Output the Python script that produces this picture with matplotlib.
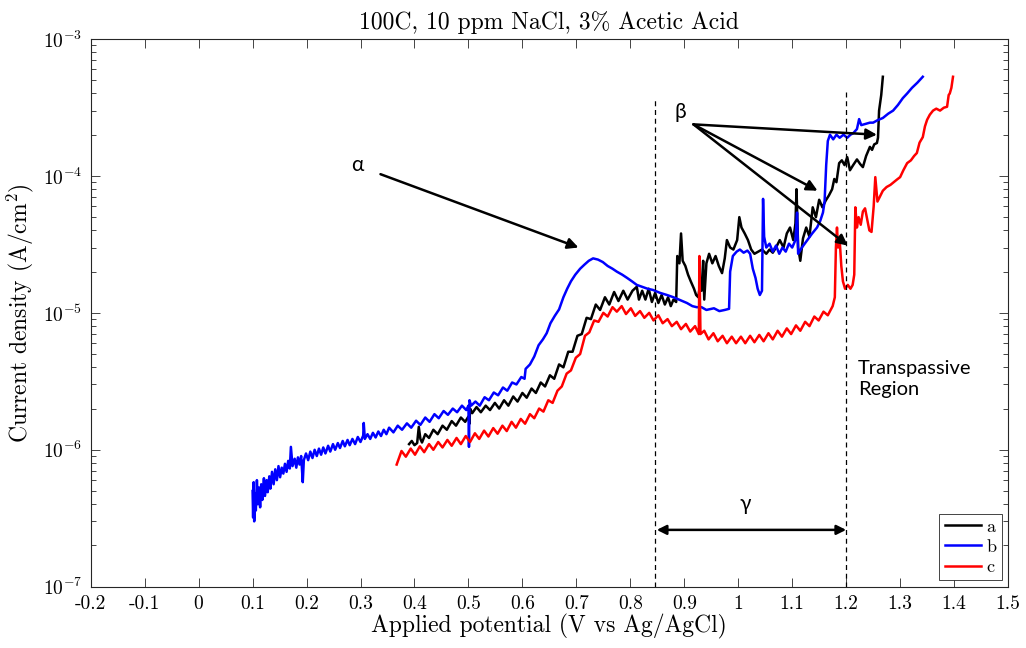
import matplotlib
matplotlib.use("Agg")
import matplotlib.pyplot as plt
from matplotlib.ticker import FixedLocator, FixedFormatter, LogLocator, NullFormatter

# === Data: (potential V, current density A/cm^2) ===
trace_a = [
    (0.390, 1.1e-6), (0.395, 1.16e-6), (0.400, 1.08e-6), (0.405, 1.12e-6), (0.408, 1.47e-6),
    (0.411, 1.2e-6), (0.414, 1.13e-6), (0.420, 1.3e-6), (0.427, 1.22e-6), (0.435, 1.4e-6),
    (0.443, 1.3e-6), (0.452, 1.5e-6), (0.460, 1.4e-6), (0.469, 1.62e-6), (0.477, 1.5e-6),
    (0.486, 1.72e-6), (0.494, 1.6e-6), (0.500, 1.75e-6), (0.502, 1.55e-6), (0.503, 2.0e-6),
    (0.507, 1.85e-6), (0.515, 2.05e-6), (0.523, 1.88e-6), (0.532, 2.1e-6), (0.540, 1.95e-6),
    (0.549, 2.2e-6), (0.557, 2.0e-6), (0.566, 2.3e-6), (0.574, 2.1e-6), (0.583, 2.45e-6),
    (0.591, 2.25e-6), (0.600, 2.6e-6), (0.608, 2.4e-6), (0.617, 2.8e-6), (0.625, 2.6e-6),
    (0.634, 3.1e-6), (0.642, 2.9e-6), (0.651, 3.5e-6), (0.659, 3.3e-6), (0.668, 4.2e-6),
    (0.676, 4.0e-6), (0.685, 5.2e-6), (0.693, 5.2e-6), (0.702, 6.8e-6), (0.710, 7.0e-6),
    (0.719, 9.2e-6), (0.727, 9.0e-6), (0.736, 1.15e-5), (0.744, 1.05e-5), (0.753, 1.3e-5),
    (0.761, 1.15e-5), (0.770, 1.42e-5), (0.778, 1.22e-5), (0.787, 1.45e-5), (0.795, 1.25e-5),
    (0.804, 1.45e-5), (0.812, 1.55e-5), (0.816, 1.25e-5), (0.822, 1.45e-5), (0.828, 1.25e-5),
    (0.834, 1.5e-5), (0.840, 1.2e-5), (0.846, 1.4e-5), (0.852, 1.18e-5), (0.858, 1.35e-5),
    (0.864, 1.15e-5), (0.870, 1.3e-5), (0.875, 1.12e-5), (0.880, 1.25e-5), (0.885, 1.2e-5),
    (0.887, 2.6e-5), (0.891, 2.3e-5), (0.894, 3.8e-5), (0.897, 2.4e-5), (0.902, 2.2e-5),
    (0.907, 1.9e-5), (0.912, 1.7e-5), (0.918, 1.5e-5), (0.922, 1.35e-5), (0.926, 1.3e-5),
    (0.929, 1.6e-5), (0.932, 1.45e-5), (0.935, 2.4e-5), (0.937, 1.25e-5), (0.941, 2.3e-5),
    (0.946, 2.7e-5), (0.952, 2.3e-5), (0.958, 2.6e-5), (0.964, 2.2e-5), (0.970, 1.95e-5),
    (0.975, 2.5e-5), (0.979, 3.4e-5), (0.985, 3.0e-5), (0.991, 2.9e-5), (0.998, 3.4e-5),
    (1.002, 5.0e-5), (1.006, 4.2e-5), (1.012, 3.8e-5), (1.018, 3.4e-5), (1.024, 2.9e-5),
    (1.030, 2.7e-5), (1.037, 2.8e-5), (1.044, 2.9e-5), (1.052, 2.7e-5), (1.058, 2.9e-5),
    (1.064, 2.75e-5), (1.070, 3.0e-5), (1.077, 3.4e-5), (1.084, 3.0e-5), (1.090, 3.8e-5),
    (1.096, 4.2e-5), (1.102, 3.4e-5), (1.106, 4.5e-5), (1.108, 8.0e-5), (1.111, 3.0e-5),
    (1.115, 2.4e-5), (1.120, 3.5e-5), (1.126, 4.2e-5), (1.132, 3.6e-5), (1.138, 5.9e-5),
    (1.144, 5.0e-5), (1.150, 6.7e-5), (1.156, 5.9e-5), (1.162, 6.6e-5), (1.168, 7.2e-5),
    (1.174, 8.0e-5), (1.178, 9.5e-5), (1.182, 9.0e-5), (1.187, 1.24e-4), (1.192, 1.3e-4),
    (1.197, 1.2e-4), (1.202, 1.37e-4), (1.207, 1.1e-4), (1.213, 1.2e-4), (1.220, 1.32e-4),
    (1.226, 1.22e-4), (1.231, 1.16e-4), (1.237, 1.4e-4), (1.244, 1.63e-4), (1.248, 1.55e-4),
    (1.252, 1.7e-4), (1.257, 1.74e-4), (1.259, 1.9e-4), (1.261, 3.0e-4), (1.263, 3.4e-4),
    (1.265, 3.9e-4), (1.268, 5.3e-4),
]

trace_b = [
    (0.100, 5.0e-7), (0.101, 3.2e-7), (0.102, 5.8e-7), (0.103, 3.0e-7), (0.105, 4.8e-7),
    (0.106, 3.6e-7), (0.108, 6.0e-7), (0.110, 4.0e-7), (0.112, 5.3e-7), (0.114, 3.8e-7),
    (0.116, 5.6e-7), (0.118, 4.3e-7), (0.121, 6.2e-7), (0.123, 4.6e-7), (0.126, 6.0e-7),
    (0.128, 4.9e-7), (0.131, 6.4e-7), (0.133, 5.2e-7), (0.136, 6.9e-7), (0.139, 5.6e-7),
    (0.142, 7.2e-7), (0.145, 6.0e-7), (0.148, 7.6e-7), (0.151, 6.3e-7), (0.154, 7.4e-7),
    (0.157, 6.7e-7), (0.160, 7.9e-7), (0.163, 6.9e-7), (0.166, 8.3e-7), (0.169, 7.3e-7),
    (0.171, 1.05e-6), (0.174, 7.6e-7), (0.178, 8.6e-7), (0.181, 7.4e-7), (0.184, 8.8e-7),
    (0.187, 7.8e-7), (0.190, 9.0e-7), (0.193, 5.8e-7), (0.195, 8.4e-7), (0.199, 9.4e-7),
    (0.203, 8.4e-7), (0.207, 9.7e-7), (0.211, 8.7e-7), (0.215, 1.0e-6), (0.219, 9.0e-7),
    (0.223, 1.02e-6), (0.227, 9.2e-7), (0.231, 1.04e-6), (0.235, 9.4e-7), (0.240, 1.07e-6),
    (0.244, 9.7e-7), (0.249, 1.1e-6), (0.253, 1.0e-6), (0.258, 1.12e-6), (0.262, 1.03e-6),
    (0.267, 1.16e-6), (0.271, 1.06e-6), (0.276, 1.18e-6), (0.280, 1.08e-6), (0.285, 1.2e-6),
    (0.290, 1.1e-6), (0.295, 1.24e-6), (0.300, 1.14e-6), (0.305, 1.27e-6), (0.306, 1.57e-6),
    (0.308, 1.2e-6), (0.313, 1.3e-6), (0.318, 1.2e-6), (0.323, 1.33e-6), (0.328, 1.23e-6),
    (0.333, 1.36e-6), (0.338, 1.26e-6), (0.343, 1.4e-6), (0.348, 1.3e-6), (0.353, 1.45e-6),
    (0.361, 1.34e-6), (0.369, 1.5e-6), (0.377, 1.4e-6), (0.386, 1.56e-6), (0.394, 1.45e-6),
    (0.403, 1.63e-6), (0.411, 1.52e-6), (0.420, 1.72e-6), (0.428, 1.6e-6), (0.437, 1.82e-6),
    (0.445, 1.7e-6), (0.454, 1.92e-6), (0.462, 1.8e-6), (0.471, 2.0e-6), (0.479, 1.88e-6),
    (0.488, 2.1e-6), (0.496, 1.95e-6), (0.500, 2.1e-6), (0.501, 1.05e-6), (0.502, 2.3e-6),
    (0.505, 2.1e-6), (0.513, 2.25e-6), (0.521, 2.1e-6), (0.530, 2.42e-6), (0.538, 2.3e-6),
    (0.547, 2.62e-6), (0.555, 2.5e-6), (0.564, 2.85e-6), (0.572, 2.7e-6), (0.581, 3.1e-6),
    (0.589, 3.0e-6), (0.598, 3.4e-6), (0.604, 3.3e-6), (0.606, 3.9e-6), (0.614, 4.2e-6),
    (0.622, 4.8e-6), (0.630, 5.8e-6), (0.638, 6.4e-6), (0.645, 7.1e-6), (0.652, 8.4e-6),
    (0.660, 9.5e-6), (0.668, 1.06e-5), (0.676, 1.3e-5), (0.683, 1.5e-5), (0.690, 1.7e-5),
    (0.698, 1.9e-5), (0.707, 2.1e-5), (0.715, 2.25e-5), (0.723, 2.4e-5), (0.731, 2.5e-5),
    (0.740, 2.45e-5), (0.749, 2.35e-5), (0.758, 2.2e-5), (0.767, 2.1e-5), (0.775, 2.0e-5),
    (0.785, 1.9e-5), (0.794, 1.8e-5), (0.803, 1.7e-5), (0.812, 1.6e-5), (0.822, 1.55e-5),
    (0.832, 1.5e-5), (0.842, 1.47e-5), (0.855, 1.4e-5), (0.868, 1.35e-5), (0.880, 1.3e-5),
    (0.892, 1.24e-5), (0.905, 1.18e-5), (0.915, 1.12e-5), (0.923, 1.1e-5), (0.932, 1.1e-5),
    (0.941, 1.05e-5), (0.955, 1.08e-5), (0.965, 1.03e-5), (0.975, 1.05e-5), (0.983, 1.07e-5),
    (0.985, 2.0e-5), (0.990, 2.6e-5), (0.997, 2.8e-5), (1.003, 2.9e-5), (1.010, 2.75e-5),
    (1.017, 2.85e-5), (1.022, 2.7e-5), (1.027, 2.1e-5), (1.032, 1.8e-5), (1.036, 1.5e-5),
    (1.040, 1.35e-5), (1.044, 1.45e-5), (1.046, 6.8e-5), (1.048, 3.6e-5), (1.052, 3.0e-5),
    (1.058, 3.2e-5), (1.064, 2.8e-5), (1.070, 3.1e-5), (1.076, 2.7e-5), (1.082, 3.0e-5),
    (1.088, 2.8e-5), (1.094, 3.2e-5), (1.100, 3.0e-5), (1.106, 3.4e-5), (1.109, 5.4e-5),
    (1.111, 2.7e-5), (1.118, 3.0e-5), (1.128, 3.4e-5), (1.137, 3.8e-5), (1.146, 4.2e-5),
    (1.152, 4.7e-5), (1.157, 5.4e-5), (1.160, 6.5e-5), (1.163, 1.2e-4), (1.166, 1.8e-4),
    (1.170, 2.0e-4), (1.176, 1.85e-4), (1.182, 2.0e-4), (1.188, 1.9e-4), (1.195, 2.0e-4),
    (1.202, 1.9e-4), (1.208, 2.0e-4), (1.213, 2.05e-4), (1.220, 2.2e-4), (1.224, 2.6e-4),
    (1.228, 2.35e-4), (1.236, 2.4e-4), (1.244, 2.45e-4), (1.250, 2.45e-4), (1.258, 2.55e-4),
    (1.268, 2.65e-4), (1.278, 2.85e-4), (1.287, 3.0e-4), (1.296, 3.3e-4), (1.305, 3.7e-4),
    (1.313, 4.0e-4), (1.322, 4.4e-4), (1.332, 4.8e-4), (1.342, 5.3e-4),
]

trace_c = [
    (0.367, 7.8e-7), (0.376, 9.8e-7), (0.384, 8.9e-7), (0.393, 1.02e-6), (0.401, 9.2e-7),
    (0.410, 1.06e-6), (0.418, 9.6e-7), (0.427, 1.1e-6), (0.435, 1.0e-6), (0.444, 1.14e-6),
    (0.452, 1.04e-6), (0.461, 1.18e-6), (0.469, 1.07e-6), (0.478, 1.22e-6), (0.486, 1.1e-6),
    (0.495, 1.26e-6), (0.503, 1.14e-6), (0.512, 1.32e-6), (0.520, 1.2e-6), (0.529, 1.38e-6),
    (0.537, 1.25e-6), (0.546, 1.44e-6), (0.554, 1.31e-6), (0.563, 1.5e-6), (0.571, 1.37e-6),
    (0.580, 1.6e-6), (0.588, 1.45e-6), (0.597, 1.68e-6), (0.605, 1.55e-6), (0.614, 1.82e-6),
    (0.622, 1.7e-6), (0.631, 2.0e-6), (0.639, 1.9e-6), (0.648, 2.3e-6), (0.656, 2.2e-6),
    (0.665, 2.7e-6), (0.673, 2.9e-6), (0.682, 3.6e-6), (0.690, 3.8e-6), (0.699, 4.7e-6),
    (0.707, 5.0e-6), (0.716, 6.8e-6), (0.724, 7.2e-6), (0.733, 8.8e-6), (0.741, 8.6e-6),
    (0.750, 1.0e-5), (0.758, 9.4e-6), (0.767, 1.1e-5), (0.775, 1.02e-5), (0.784, 1.12e-5),
    (0.792, 9.8e-6), (0.801, 1.08e-5), (0.809, 9.5e-6), (0.818, 1.03e-5), (0.826, 9.2e-6),
    (0.835, 1.0e-5), (0.843, 8.8e-6), (0.852, 9.6e-6), (0.860, 8.4e-6), (0.869, 9.0e-6),
    (0.877, 8.0e-6), (0.886, 8.6e-6), (0.894, 7.6e-6), (0.903, 8.3e-6), (0.911, 7.3e-6),
    (0.920, 8.0e-6), (0.927, 7.0e-6), (0.928, 2.6e-5), (0.930, 7.0e-6), (0.937, 7.4e-6),
    (0.945, 6.4e-6), (0.954, 7.1e-6), (0.962, 6.2e-6), (0.971, 6.8e-6), (0.979, 6.0e-6),
    (0.988, 6.7e-6), (0.996, 6.0e-6), (1.005, 6.7e-6), (1.013, 6.0e-6), (1.022, 6.8e-6),
    (1.030, 6.1e-6), (1.039, 6.9e-6), (1.047, 6.2e-6), (1.056, 7.1e-6), (1.064, 6.4e-6),
    (1.073, 7.4e-6), (1.081, 6.7e-6), (1.090, 7.7e-6), (1.098, 7.0e-6), (1.107, 8.1e-6),
    (1.115, 7.4e-6), (1.124, 8.6e-6), (1.132, 8.0e-6), (1.141, 9.4e-6), (1.149, 8.8e-6),
    (1.158, 1.02e-5), (1.166, 9.6e-6), (1.175, 1.12e-5), (1.179, 1.3e-5), (1.181, 3.0e-5),
    (1.183, 4.2e-5), (1.185, 3.0e-5), (1.188, 3.4e-5), (1.191, 2.2e-5), (1.194, 1.7e-5),
    (1.198, 1.5e-5), (1.203, 1.6e-5), (1.208, 1.5e-5), (1.212, 1.6e-5), (1.215, 1.9e-5),
    (1.217, 5.9e-5), (1.220, 4.2e-5), (1.223, 5.0e-5), (1.227, 4.4e-5), (1.231, 5.5e-5),
    (1.235, 5.8e-5), (1.239, 4.8e-5), (1.243, 4.0e-5), (1.247, 3.9e-5), (1.251, 6.0e-5),
    (1.254, 9.8e-5), (1.258, 6.5e-5), (1.262, 7.0e-5), (1.268, 7.8e-5), (1.275, 8.3e-5),
    (1.282, 8.6e-5), (1.288, 9.0e-5), (1.294, 9.4e-5), (1.300, 9.8e-5), (1.306, 1.1e-4),
    (1.313, 1.24e-4), (1.320, 1.3e-4), (1.326, 1.4e-4), (1.331, 1.47e-4), (1.336, 1.75e-4),
    (1.342, 1.92e-4), (1.346, 2.3e-4), (1.350, 2.57e-4), (1.355, 2.8e-4), (1.361, 3.0e-4),
    (1.367, 3.1e-4), (1.374, 3.0e-4), (1.381, 3.15e-4), (1.387, 3.2e-4), (1.390, 3.9e-4),
    (1.392, 4.0e-4), (1.395, 4.4e-4), (1.398, 5.3e-4),
]

series_labels = ["a", "b", "c"]
series_colors = ["black", "blue", "red"]

x_ticks = [-0.2, -0.1, 0, 0.1, 0.2, 0.3, 0.4, 0.5, 0.6, 0.7, 0.8, 0.9, 1.0, 1.1, 1.2, 1.3, 1.4, 1.5]
x_tick_labels = ["-0.2", "-0.1", "0", "0.1", "0.2", "0.3", "0.4", "0.5", "0.6", "0.7",
                 "0.8", "0.9", "1", "1.1", "1.2", "1.3", "1.4", "1.5"]
boundary_potentials = [0.846, 1.2]   # dashed region markers

# === Style ===
plt.rcParams["font.family"] = "cmr10"
plt.rcParams["mathtext.fontset"] = "cm"
plt.rcParams["axes.formatter.use_mathtext"] = True
axis_gray = "#262626"

fig = plt.figure(figsize=(10.26, 6.48), dpi=100)
ax = fig.add_axes([0.0884, 0.0946, 0.8941, 0.8452])

for trace, lab, col in zip([trace_a, trace_b, trace_c], series_labels, series_colors):
    pot, cur = zip(*trace)
    ax.plot(pot, cur, color=col, lw=1.8, label=lab)

ax.set_yscale("log")
ax.set_xlim(-0.2, 1.5)
ax.set_ylim(1e-7, 1e-3)

ax.xaxis.set_major_locator(FixedLocator(x_ticks))
ax.xaxis.set_major_formatter(FixedFormatter(x_tick_labels))
ax.yaxis.set_major_locator(LogLocator(base=10, numticks=10))
ax.yaxis.set_minor_locator(LogLocator(base=10, subs=range(2, 10), numticks=20))
ax.yaxis.set_minor_formatter(NullFormatter())

ax.tick_params(which="both", direction="in", top=True, right=True, colors=axis_gray,
               labelcolor="black", labelsize=14, width=0.6)
ax.tick_params(which="major", length=6.5, pad=6)
ax.tick_params(which="minor", length=3.5)
for sp in ax.spines.values():
    sp.set_color(axis_gray)
    sp.set_linewidth(0.8)

ax.set_title("100C, 10 ppm NaCl, 3% Acetic Acid", fontsize=17, pad=7)
ax.set_xlabel("Applied potential (V vs Ag/AgCl)", fontsize=17, labelpad=1)
ax.set_ylabel("Current density (A/cm$^2$)", fontsize=17, labelpad=5)

# dashed boundaries
ax.plot([boundary_potentials[0]] * 2, [1e-7, 3.6e-4], color="black", ls="--", lw=0.9, dashes=(4, 3))
ax.plot([boundary_potentials[1]] * 2, [1e-7, 4.1e-4], color="black", ls="--", lw=0.9, dashes=(4, 3))

# annotations
arrow = dict(arrowstyle="-|>", color="black", lw=1.8, mutation_scale=16, shrinkA=0, shrinkB=0)
ann_font = dict(family="Lato", fontsize=15, color="black")
ax.text(0.295, 1.2e-4, "α", ha="center", va="center", **ann_font)
ax.annotate("", xy=(0.704, 3.0e-5), xytext=(0.337, 1.03e-4), arrowprops=arrow)

ax.text(0.892, 2.93e-4, "β", ha="center", va="center", **ann_font)
for tip in [(1.257, 2.0e-4), (1.147, 7.8e-5), (1.203, 3.1e-5)]:
    ax.annotate("", xy=tip, xytext=(0.917, 2.38e-4), arrowprops=arrow)

ax.annotate("", xy=(1.2, 2.6e-7), xytext=(0.849, 2.6e-7),
            arrowprops=dict(arrowstyle="<|-|>", color="black", lw=1.8, mutation_scale=14,
                            shrinkA=0, shrinkB=0))
ax.text(1.013, 4.0e-7, "γ", ha="center", va="center", **ann_font)

ax.text(1.222, 3.3e-6, "Transpassive\nRegion", ha="left", va="center",
        family="Lato", fontsize=14.5, linespacing=1.3)

leg = ax.legend(loc="lower right", fontsize=13, handlelength=2.0, handletextpad=0.3,
                borderpad=0.3, labelspacing=0.25, borderaxespad=0.35, fancybox=False,
                framealpha=1, edgecolor=axis_gray)
leg.get_frame().set_linewidth(0.6)

fig.savefig("out.png", dpi=100, facecolor="white")
